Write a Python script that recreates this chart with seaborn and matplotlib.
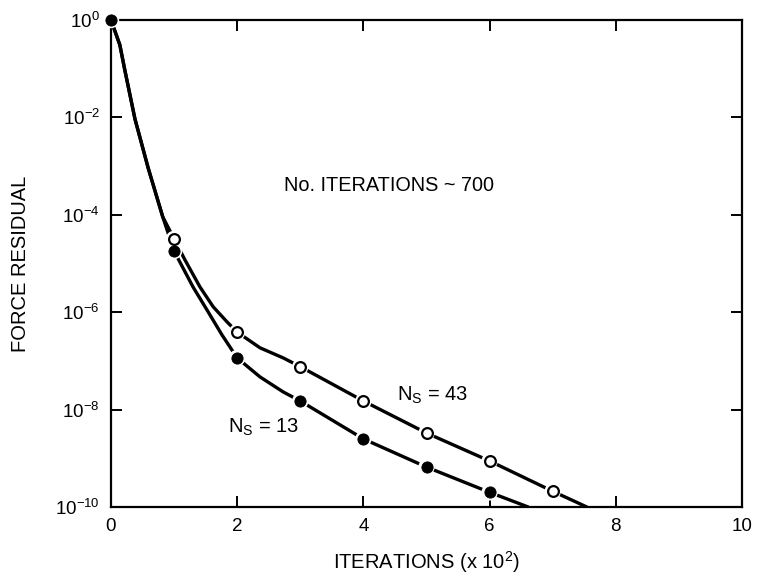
import matplotlib
matplotlib.use("Agg")
import matplotlib.pyplot as plt
import seaborn as sns
import pandas as pd

# curve readings (iterations x 100, force residual)
curve43_x = [0, 0.14, 0.22, 0.38, 0.59, 0.82, 1.0, 1.17, 1.41, 1.62, 1.84, 2,
             2.36, 2.73, 3, 4, 5, 6, 7, 7.54]
curve43_y = [1, 3.1e-1, 9.3e-2, 9.3e-3, 9.1e-4, 9.1e-5, 3.2e-5, 1.2e-5, 3.3e-6,
             1.29e-6, 6.3e-7, 3.9e-7, 1.86e-7, 1.15e-7, 7.6e-8, 1.5e-8, 3.3e-9,
             8.8e-10, 2.1e-10, 1e-10]
curve13_x = [0, 0.14, 0.22, 0.38, 0.59, 0.82, 1.0, 1.30, 1.52, 1.76, 2,
             2.36, 2.73, 3, 4, 5, 6, 6.61]
curve13_y = [1, 3.1e-1, 9.3e-2, 9.3e-3, 9.1e-4, 9.1e-5, 1.8e-5, 3.3e-6,
             1.12e-6, 3.4e-7, 1.15e-7, 4.7e-8, 2.3e-8, 1.5e-8, 2.5e-9, 6.6e-10,
             2.0e-10, 1e-10]

# plotted symbols
open_x = [1, 2, 3, 4, 5, 6, 7]
open_y = [3.2e-5, 3.9e-7, 7.6e-8, 1.5e-8, 3.3e-9, 8.8e-10, 2.1e-10]
filled_x = [0, 1, 2, 3, 4, 5, 6]
filled_y = [1, 1.8e-5, 1.15e-7, 1.5e-8, 2.5e-9, 6.6e-10, 2.0e-10]

xticks = [0, 2, 4, 6, 8, 10]
yticks = [1e0, 1e-2, 1e-4, 1e-6, 1e-8, 1e-10]
ylabels = ["$10^{0}$", "$10^{-2}$", "$10^{-4}$", "$10^{-6}$", "$10^{-8}$", "$10^{-10}$"]

sns.set_style("ticks")
plt.rcParams["font.family"] = ["Liberation Sans", "DejaVu Sans"]
plt.rcParams["mathtext.fontset"] = "custom"
plt.rcParams["mathtext.rm"] = "Liberation Sans"
plt.rcParams["mathtext.it"] = "Liberation Sans"
plt.rcParams["text.color"] = "black"
plt.rcParams["axes.labelcolor"] = "black"
plt.rcParams["xtick.color"] = "black"
plt.rcParams["ytick.color"] = "black"
plt.rcParams["axes.edgecolor"] = "black"

fig = plt.figure(figsize=(7.58, 5.82), dpi=100)
ax = fig.add_axes([0.1464, 0.1289, 0.8326, 0.8367])

c43 = pd.DataFrame({"x": curve43_x, "y": curve43_y})
c13 = pd.DataFrame({"x": curve13_x, "y": curve13_y})
sns.lineplot(data=c43, x="x", y="y", sort=False, color="black", lw=2.4, ax=ax, zorder=2)
sns.lineplot(data=c13, x="x", y="y", sort=False, color="black", lw=2.4, ax=ax, zorder=2)

# white halo so the lines break near the symbols
for xs, ys in [(open_x, open_y), (filled_x, filled_y)]:
    sns.scatterplot(x=xs, y=ys, s=140, color="white", edgecolor="none", ax=ax,
                    zorder=3, clip_on=False)
sns.scatterplot(x=open_x, y=open_y, s=60, color="white", edgecolor="black",
                linewidth=1.6, ax=ax, zorder=4, clip_on=False)
sns.scatterplot(x=filled_x, y=filled_y, s=65, color="black", edgecolor="black",
                ax=ax, zorder=4, clip_on=False)

ax.set_yscale("log")
ax.set_xlim(0, 10)
ax.set_ylim(1e-10, 1e0)
ax.set_xticks(xticks)
ax.set_xticklabels([str(t) for t in xticks], fontsize=13.5)
ax.set_yticks(yticks)
ax.set_yticklabels(ylabels, fontsize=13.5)
ax.minorticks_off()
ax.tick_params(direction="in", length=8, width=1.4, top=True, right=True, pad=8)
for sp in ax.spines.values():
    sp.set_linewidth(1.6)

ax.set_xlabel("ITERATIONS (x 10$^2$)", fontsize=14.5, labelpad=10)
ax.set_ylabel("FORCE RESIDUAL", fontsize=14.5, labelpad=18)

ax.text(2.74, 10**-3.39, "No. ITERATIONS ~ 700", fontsize=14.3, va="center")
ax.text(4.53, 10**-7.7, "N$_S$ = 43", fontsize=14.5, va="center")
ax.text(1.85, 10**-8.36, "N$_S$ = 13", fontsize=14.5, va="center")

fig.savefig("out.png", dpi=100)
